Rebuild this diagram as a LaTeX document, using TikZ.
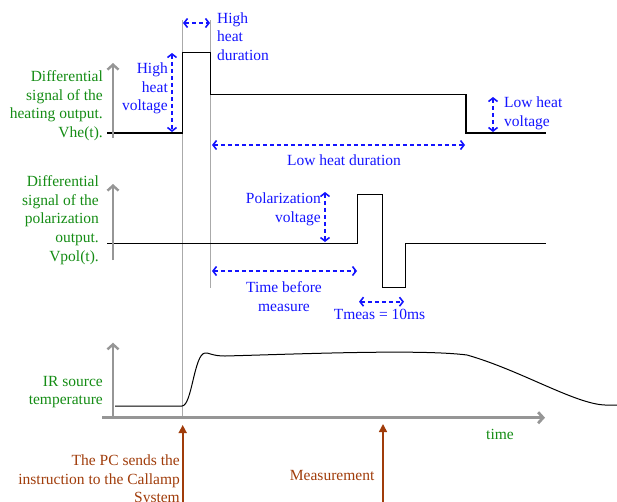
\documentclass[tikz,border=0pt]{standalone}
\usepackage{fontspec}
\setmainfont{Liberation Serif}
\usepackage{tikz}
\usetikzlibrary{arrows.meta}
\definecolor{siggreen}{RGB}{20,140,20}
\definecolor{dimblue}{RGB}{20,20,255}
\definecolor{evbrown}{RGB}{160,60,10}
\definecolor{axisgray}{RGB}{150,150,150}
\definecolor{guidegray}{RGB}{170,170,170}

\begin{document}
\begin{tikzpicture}[x=1pt,y=-1pt,
  every node/.style={font=\fontsize{15.5}{18.6}\selectfont,inner sep=0pt},
  green label/.style={text=siggreen,align=right,anchor=east},
  blue label/.style={text=dimblue},
  dim arrow/.style={{Straight Barb[length=3.5pt,width=9pt]}-{Straight Barb[length=3.5pt,width=9pt]},
    dimblue,line width=1.6pt,dash pattern=on 4pt off 3pt},
  axis/.style={-{Straight Barb[length=5pt,width=11pt]},axisgray,line width=2.4pt},
  signal/.style={black,line width=1.2pt},
  guide/.style={guidegray,line width=1.2pt},
  event/.style={-{Triangle[length=8pt,width=8pt]},evbrown,line width=1.6pt}]

  \useasboundingbox (0,0) rectangle (617,501);

  % guide lines
  \coordinate (g1top) at (182.7,20);
  \coordinate (g1bot) at (182.7,417);
  \coordinate (g2top) at (210.7,20);
  \coordinate (g2bot) at (210.7,288);
  \draw[guide] (g1top) -- (g1bot);
  \draw[guide] (g2top) -- (g2bot);

  % heating output
  \coordinate (he0) at (107,133);
  \coordinate (he1) at (182.7,133);
  \coordinate (he2) at (182.7,52.3);
  \coordinate (he3) at (210.7,52.3);
  \coordinate (he4) at (210.7,94.3);
  \coordinate (he5) at (466,94.3);
  \coordinate (he6) at (466,133);
  \coordinate (he7) at (545.7,133);
  \draw[signal] (he0) -- (he1) -- (he2) -- (he3) -- (he4) -- (he5) -- (he6) -- (he7);

  \coordinate (heA) at (113,138);
  \coordinate (heB) at (113,63);
  \draw[axis] (heA) -- (heB);
  \node[green label] (helabel) at (103,105.5)
    {Differential\\signal of the\\heating output.\\Vhe(t).};

  % polarization output
  \coordinate (po0) at (107,243.3);
  \coordinate (po1) at (357.7,243.3);
  \coordinate (po2) at (357.7,194.7);
  \coordinate (po3) at (382.3,194.7);
  \coordinate (po4) at (382.3,287.7);
  \coordinate (po5) at (405.7,287.7);
  \coordinate (po6) at (405.7,243.3);
  \coordinate (po7) at (545.7,243.3);
  \draw[signal] (po0) -- (po1) -- (po2) -- (po3) -- (po4) -- (po5) -- (po6) -- (po7);

  \coordinate (poA) at (113,260);
  \coordinate (poB) at (113,184);
  \draw[axis] (poA) -- (poB);
  \node[green label] (polabel) at (99,220)
    {Differential\\signal of the\\polarization\\output.\\Vpol(t).};

  % IR source temperature
  \coordinate (tA) at (113,417.7);
  \coordinate (tB) at (113,342.7);
  \coordinate (t0) at (102,417.7);
  \coordinate (t1) at (545,417.7);
  \draw[axis] (tA) -- (tB);
  \draw[axis,line width=2.8pt] (t0) -- (t1);
  \draw[signal,line width=1pt] (115,406) -- (182,406)
    .. controls (192,406) and (194,354) .. (205,353)
    .. controls (209,352.5) and (212,356) .. (225,356)
    .. controls (300,354) and (420,349) .. (467,355)
    .. controls (520,370) and (575,404) .. (605,405) -- (617,405);
  \node[green label] (irlabel) at (103,392) {IR source\\temperature};
  \node[text=siggreen] (time) at (500,434) {time};

  % dimensions
  \coordinate (hhd1) at (183,23);
  \coordinate (hhd2) at (210,23);
  \draw[dim arrow] (hhd1) -- (hhd2);
  \node[blue label,align=left,anchor=west] (hhdlabel) at (217,36.5) {High\\heat\\duration};

  \coordinate (hhv1) at (172,53);
  \coordinate (hhv2) at (172,132);
  \draw[dim arrow] (hhv1) -- (hhv2);
  \node[blue label,align=right,anchor=east] (hhvlabel) at (168,88.5) {High\\heat\\voltage};

  \coordinate (lhd1) at (212,145);
  \coordinate (lhd2) at (465,145);
  \draw[dim arrow] (lhd1) -- (lhd2);
  \node[blue label] (lhdlabel) at (344,160) {Low heat duration};

  \coordinate (lhv1) at (493,97);
  \coordinate (lhv2) at (493,132);
  \draw[dim arrow] (lhv1) -- (lhv2);
  \node[blue label,align=left,anchor=west] (lhvlabel) at (504,113) {Low heat\\voltage};

  \coordinate (pv1) at (325,192);
  \coordinate (pv2) at (325,242);
  \draw[dim arrow] (pv1) -- (pv2);
  \node[blue label,align=right,anchor=east] (pvlabel) at (321,209.5) {Polarization\\voltage};

  \coordinate (tbm1) at (212,271);
  \coordinate (tbm2) at (357,271);
  \draw[dim arrow] (tbm1) -- (tbm2);
  \node[blue label,align=center] (tbmlabel) at (284,296.5) {Time before\\measure};

  \coordinate (tm1) at (359,301.7);
  \coordinate (tm2) at (404,301.7);
  \draw[dim arrow] (tm1) -- (tm2);
  \node[blue label] (tmlabel) at (379.5,314) {Tmeas = 10ms};

  % events
  \coordinate (pc0) at (182.7,505);
  \coordinate (pc1) at (182.7,425);
  \draw[event] (pc0) -- (pc1);
  \node[text=evbrown,align=right,anchor=east] (pclabel) at (180,480.6)
    {The PC sends the\\instruction to the Callamp\\System};

  \coordinate (me0) at (383,505);
  \coordinate (me1) at (383,424);
  \draw[event] (me0) -- (me1);
  \node[text=evbrown,anchor=east] (melabel) at (374.5,475) {Measurement};
\end{tikzpicture}
\end{document}
